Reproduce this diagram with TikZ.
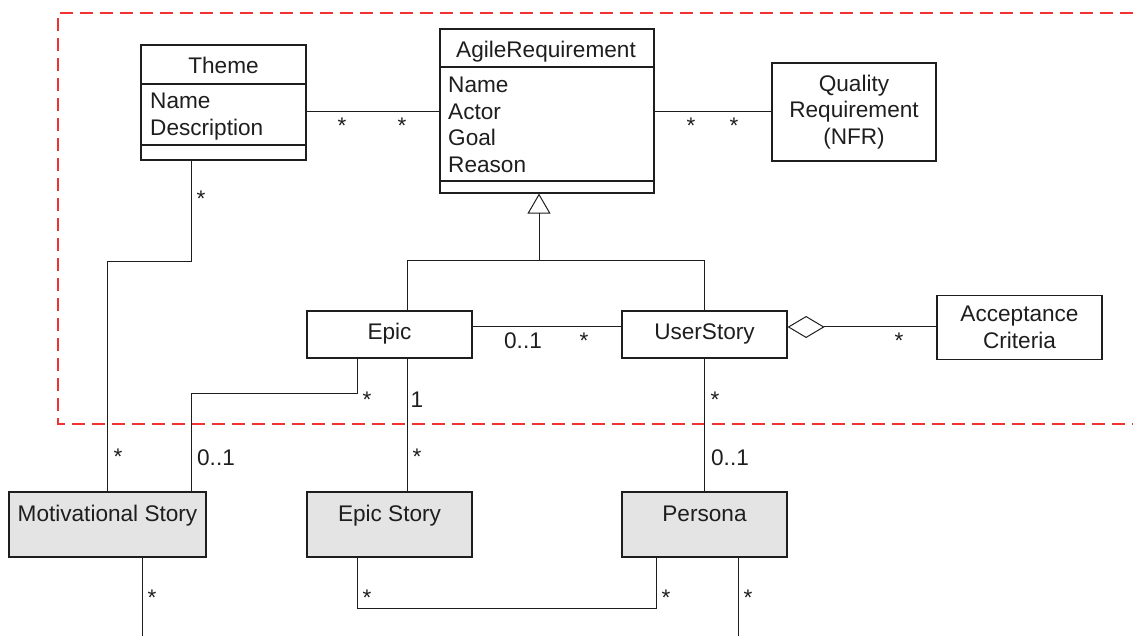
\documentclass[tikz,border=0pt]{standalone}
\usepackage{fontspec}
\setmainfont{Liberation Sans}
\usetikzlibrary{arrows.meta}
\definecolor{framered}{RGB}{240,50,50}
\definecolor{boxgray}{RGB}{228,228,228}
\definecolor{ink}{RGB}{30,30,30}
\begin{document}
\begin{tikzpicture}[x=1pt,y=-1pt,
  font=\fontsize{22.6}{26.6}\selectfont,
  box/.style={draw=ink, line width=1.2pt, inner sep=0pt, text=ink},
  single/.style={text height=16pt, text depth=5pt},
  grey/.style={box, fill=boxgray},
  txt/.style={inner sep=0pt, text=ink},
  lbl/.style={inner sep=0pt, text=ink, anchor=base},
  boxline/.style={draw=ink, line width=1.2pt},
  conn/.style={draw=ink, line width=1pt},
  frame/.style={draw=framered, line width=1.5pt, dash pattern=on 13pt off 7pt}]
\useasboundingbox (0,0) rectangle (1133,636);

% dashed frame
\draw[frame] (1133,13) -- (58,13) -- (58,424) -- (1133,424);

% Theme class
\node[box, minimum width=165pt, minimum height=115pt] (theme) at (223.5,102.5) {};
\node[txt, anchor=base] (themeT) at (223.5,74) {Theme};
\draw[boxline] (theme.west |- 0,84) -- (theme.east |- 0,84);
\draw[boxline] (theme.west |- 0,145) -- (theme.east |- 0,145);
\node[txt, anchor=base west] (themeA1) at (150,109) {Name};
\node[txt, anchor=base west] (themeA2) at (150,136) {Description};

% AgileRequirement class
\node[box, minimum width=214pt, minimum height=164pt] (agile) at (547,111) {};
\node[txt, anchor=base] (agileT) at (546,58) {AgileRequirement};
\draw[boxline] (agile.west |- 0,67) -- (agile.east |- 0,67);
\draw[boxline] (agile.west |- 0,181) -- (agile.east |- 0,181);
\node[txt, anchor=base west] (agA1) at (448,93) {Name};
\node[txt, anchor=base west] (agA2) at (448,119.5) {Actor};
\node[txt, anchor=base west] (agA3) at (448,146) {Goal};
\node[txt, anchor=base west] (agA4) at (448,172.5) {Reason};

% Quality Requirement
\node[box, align=center, minimum width=164pt, minimum height=98pt] (ql) at (854,112) {Quality\\Requirement\\(NFR)};

% Epic, UserStory, Acceptance
\node[box, single, minimum width=165pt, minimum height=47pt] (epic) at (389.5,334.5) {Epic};
\node[box, single, minimum width=165pt, minimum height=47pt] (us) at (704.5,334.5) {UserStory};
\node[box, align=center, minimum width=165pt, minimum height=64pt] (ac) at (1019.5,327.5) {Acceptance\\Criteria};

% grey boxes
\node[grey, minimum width=197pt, minimum height=65pt] (mot) at (107.5,524.5) {};
\node[txt, anchor=base] (motT) at ([yshift=-30pt]mot.north) {Motivational Story};
\node[grey, minimum width=165pt, minimum height=65pt] (es) at (389.5,524.5) {};
\node[txt, anchor=base] (esT) at ([yshift=-30pt]es.north) {Epic Story};
\node[grey, minimum width=165pt, minimum height=65pt] (pe) at (704.5,524.5) {};
\node[txt, anchor=base] (peT) at ([yshift=-30pt]pe.north) {Persona};

\coordinate (bottomedge) at (0,636);

% connectors
\draw[conn] ([yshift=-9.5pt]theme.east) -- ([yshift=-9.5pt]theme.east -| agile.west);
\draw[conn] ([yshift=-1pt]agile.east) -- ([yshift=-1pt]agile.east -| ql.west);
\draw[conn] ([xshift=-32.5pt]theme.south) -- ++(0,101) -| (mot.north);
\draw[conn] ([xshift=-32.5pt]epic.south) -- ++(0,35) -| ([xshift=83.5pt]mot.north);
\draw[conn] ([xshift=17.5pt]epic.south) -- ([xshift=17.5pt]es.north);
\draw[conn] ([xshift=17.5pt]epic.north) |- (us.north |- 0,261) -- (us.north);
\draw[conn, -{Triangle[open, length=20pt, width=23pt]}] ([xshift=-8pt]agile.south |- 0,261) -- ([xshift=-8pt]agile.south);
\draw[conn] ([yshift=7.5pt]epic.east) -- ([yshift=7.5pt]us.west);
\draw[conn, {Diamond[open, length=37pt, width=22pt]}-] ([yshift=7.5pt]us.east) -- ([yshift=7.5pt]us.east -| ac.west);
\draw[conn] (us.south) -- (pe.north);
\draw[conn] ([xshift=34.5pt]mot.south) -- ([xshift=34.5pt]mot.south |- bottomedge);
\draw[conn] ([xshift=-32.5pt]es.south) -- ++(0,51) -| ([xshift=-48.5pt]pe.south);
\draw[conn] ([xshift=33.5pt]pe.south) -- ([xshift=33.5pt]pe.south |- bottomedge);

% multiplicity labels
\node[lbl] (m1) at (342,134) {*};
\node[lbl] (m2) at (402,134) {*};
\node[lbl] (m3) at (691,134) {*};
\node[lbl] (m4) at (734,134) {*};
\node[lbl] (m5) at (201,207) {*};
\node[lbl] (m6) at (118,464) {*};
\node[lbl] (m7) at (216,465) {0..1};
\node[lbl] (m8) at (367,407) {*};
\node[lbl] (m9) at (417,407) {1};
\node[lbl] (m10) at (417,464) {*};
\node[lbl] (m11) at (715,407) {*};
\node[lbl] (m12) at (730,465) {0..1};
\node[lbl] (m13) at (523,349) {0..1};
\node[lbl] (m14) at (584,349) {*};
\node[lbl] (m15) at (899,349) {*};
\node[lbl] (m16) at (152,605) {*};
\node[lbl] (m17) at (367,605) {*};
\node[lbl] (m18) at (666,605) {*};
\node[lbl] (m19) at (748,605) {*};
\end{tikzpicture}
\end{document}
